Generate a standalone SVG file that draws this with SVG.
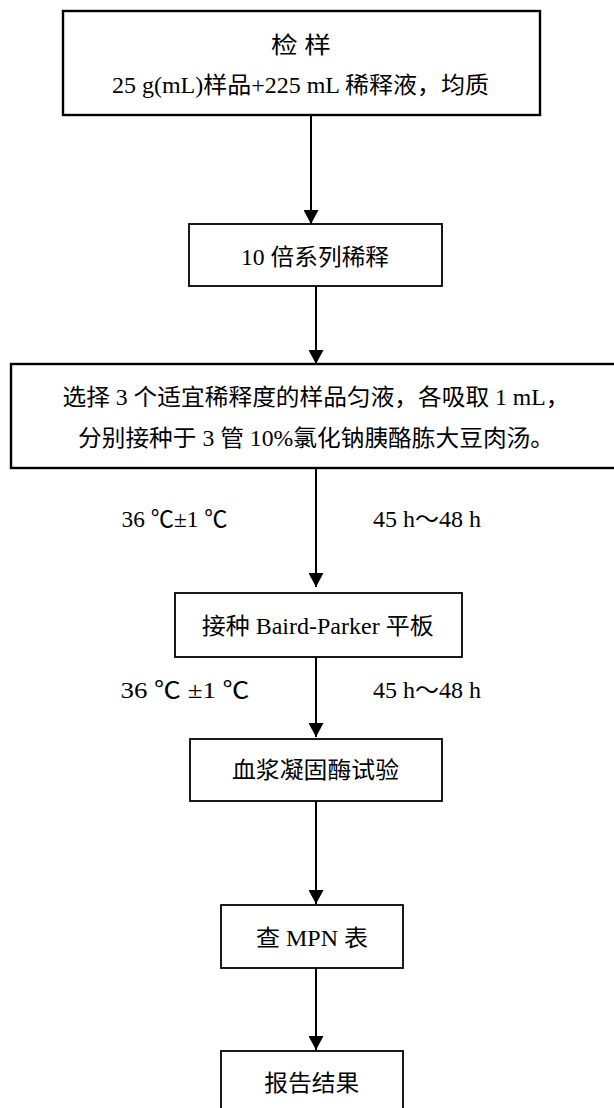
<svg xmlns="http://www.w3.org/2000/svg" width="614" height="1108" viewBox="0 0 614 1108">
<defs>
<marker id="ah" markerUnits="userSpaceOnUse" markerWidth="14" markerHeight="15" viewBox="0 0 14 15" refX="14" refY="7.5" orient="auto">
<path d="M0,0 L14,7.5 L0,15 z" fill="#000"/>
</marker>
<style>
.box{fill:#fff;stroke:#000;stroke-width:1.8}
.bold{stroke-width:2.4}
.t{font-family:"Liberation Serif","Noto Sans CJK SC",serif;font-size:23px;fill:#000}
.c{text-anchor:middle}
.con line{stroke:#000;stroke-width:2;marker-end:url(#ah)}
</style>
</defs>
<rect width="614" height="1108" fill="#fff"/>
<g class="con" id="connectors">
<line x1="311" y1="115" x2="311" y2="224"/>
<line x1="316" y1="286" x2="316" y2="364"/>
<line x1="316" y1="468" x2="316" y2="587"/>
<line x1="316" y1="657" x2="316" y2="737"/>
<line x1="316" y1="801" x2="316" y2="904"/>
<line x1="316" y1="968" x2="316" y2="1050"/>
</g>
<g id="n1">
<rect class="box bold" x="63" y="11" width="477" height="104"/>
<text class="t c" x="301" y="53" textLength="60" lengthAdjust="spacingAndGlyphs">检 样</text>
<text class="t c" x="300.5" y="93" textLength="377" lengthAdjust="spacingAndGlyphs">25 g(mL)样品+225 mL 稀释液，均质</text>
</g>
<g id="n2">
<rect class="box" x="189" y="224" width="253" height="62"/>
<text class="t c" x="315" y="265" textLength="148" lengthAdjust="spacingAndGlyphs">10 倍系列稀释</text>
</g>
<g id="n3">
<rect class="box bold" x="11" y="364" width="612" height="104"/>
<text class="t c" x="316" y="405" textLength="507" lengthAdjust="spacingAndGlyphs">选择 3 个适宜稀释度的样品匀液，各吸取 1 mL，</text>
<text class="t c" x="316" y="446" textLength="476" lengthAdjust="spacingAndGlyphs">分别接种于 3 管 10%氯化钠胰酪胨大豆肉汤。</text>
</g>
<g id="l1">
<text class="t" x="121.5" y="527" textLength="106" lengthAdjust="spacingAndGlyphs">36 ℃±1 ℃</text>
<text class="t" x="373" y="527" textLength="108" lengthAdjust="spacingAndGlyphs">45 h～48 h</text>
</g>
<g id="n4">
<rect class="box" x="175" y="593" width="287" height="64"/>
<text class="t c" x="317.7" y="634" textLength="232" lengthAdjust="spacingAndGlyphs">接种 Baird-Parker 平板</text>
</g>
<g id="l2">
<text class="t" x="120.5" y="698" textLength="129" lengthAdjust="spacingAndGlyphs">36 ℃ ±1 ℃</text>
<text class="t" x="373" y="698" textLength="108" lengthAdjust="spacingAndGlyphs">45 h～48 h</text>
</g>
<g id="n5">
<rect class="box" x="190" y="739" width="252" height="62"/>
<text class="t c" x="315.5" y="778" textLength="167" lengthAdjust="spacingAndGlyphs">血浆凝固酶试验</text>
</g>
<g id="n6">
<rect class="box" x="221" y="905" width="182" height="63"/>
<text class="t c" x="312" y="946" textLength="112" lengthAdjust="spacingAndGlyphs">查 MPN 表</text>
</g>
<g id="n7">
<rect class="box" x="221" y="1051" width="182" height="70"/>
<text class="t c" x="311.7" y="1091" textLength="95" lengthAdjust="spacingAndGlyphs">报告结果</text>
</g>
</svg>
